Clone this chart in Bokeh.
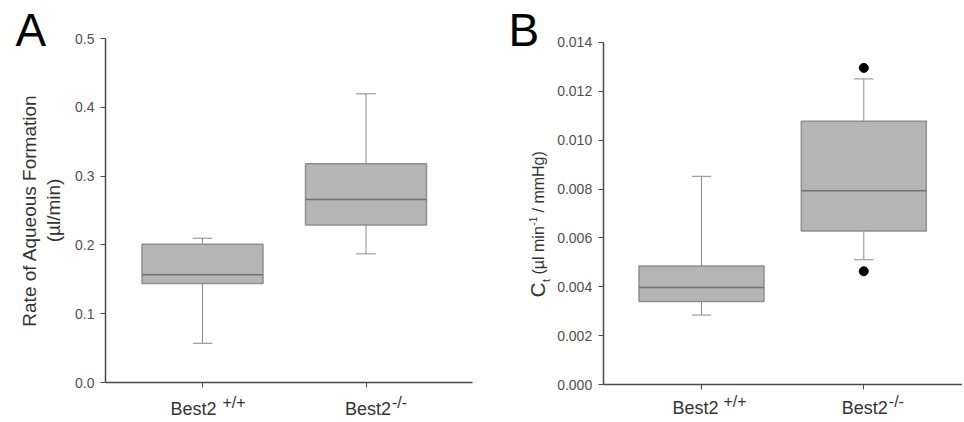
import math
from bokeh.plotting import figure
from bokeh.layouts import row
from bokeh.models import FixedTicker, Label, NumeralTickFormatter, Range1d, LinearAxis
from bokeh.embed import file_html
from bokeh.resources import INLINE

# ---------------- data ----------------
groups = [1, 2]
cat_main = ["Best2", "Best2"]
cat_sup = ["+/+", "-/-"]

# Panel A: rate of aqueous formation (µl/min)
a_lo = [0.057, 0.187]
a_q1 = [0.144, 0.229]
a_med = [0.1565, 0.266]
a_q3 = [0.201, 0.318]
a_hi = [0.2097, 0.4196]
a_ticks = [0.0, 0.1, 0.2, 0.3, 0.4, 0.5]
a_title = ["Rate of Aqueous Formation", "(µl/min)"]

# Panel B: Ct (µl min-1 / mmHg)
b_lo = [0.00285, 0.00511]
b_q1 = [0.0034, 0.00628]
b_med = [0.00398, 0.00793]
b_q3 = [0.00485, 0.01077]
b_hi = [0.00852, 0.0125]
b_out_x = [2, 2]
b_out_y = [0.01295, 0.00464]
b_ticks = [0.000, 0.002, 0.004, 0.006, 0.008, 0.010, 0.012, 0.014]
b_title = ["C", "t", "(µl min", "-1", "/ mmHg)"]

FONT = "Liberation Sans"
AXIS = "#4a4a4a"
BOX_FILL = "#b5b5b5"
BOX_LINE = "#8f8f8f"
MED = "#727272"
WHISK = "#8a8a8a"
TXT = "#333333"
K_MID = 0.3465  # baseline distance below the 'middle' anchor, in em
UP = math.pi / 2


def panel(width, height, g_px, y0_px, ytop_px, ymax, axis_left_px, axis_right_px,
          ticks, fmt, lo, q1, med, q3, hi, box_w):
    # map pixel geometry of the reference onto data ranges (frame = whole canvas)
    sx = g_px[1] - g_px[0]
    xs = 1 - g_px[0] / sx
    xe = xs + width / sx
    sy = (y0_px - ytop_px) / ymax
    ye = ymax + ytop_px / sy
    ys = -(height - y0_px) / sy
    yaxis_x = xs + axis_left_px / sx
    xaxis_end = xs + axis_right_px / sx

    p = figure(width=width, height=height, x_range=Range1d(xs, xe), y_range=Range1d(ys, ye),
               output_backend="svg", toolbar_location=None,
               x_axis_location=None, y_axis_location=None,
               min_border_left=0, min_border_right=0, min_border_top=0, min_border_bottom=0)
    p.outline_line_color = None
    p.grid.visible = False
    p.background_fill_color = "white"
    p.border_fill_color = "white"

    cap = 0.06
    p.segment(x0=groups, x1=groups, y0=q3, y1=hi, line_color=WHISK, line_width=1)
    p.segment(x0=groups, x1=groups, y0=q1, y1=lo, line_color=WHISK, line_width=1)
    p.segment(x0=[g - cap for g in groups], x1=[g + cap for g in groups], y0=hi, y1=hi,
              line_color=WHISK, line_width=1)
    p.segment(x0=[g - cap for g in groups], x1=[g + cap for g in groups], y0=lo, y1=lo,
              line_color=WHISK, line_width=1)
    p.vbar(x=groups, bottom=q1, top=q3, width=box_w, fill_color=BOX_FILL,
           line_color=BOX_LINE, line_width=1.5)
    p.segment(x0=[g - box_w / 2 for g in groups], x1=[g + box_w / 2 for g in groups],
              y0=med, y1=med, line_color=MED, line_width=1.5)

    ya = LinearAxis(fixed_location=yaxis_x, bounds=(0, ymax))
    ya.ticker = FixedTicker(ticks=ticks)
    ya.formatter = NumeralTickFormatter(format=fmt)
    ya.axis_line_color = AXIS
    ya.axis_line_width = 1.5
    ya.major_tick_line_color = AXIS
    ya.major_tick_in = 0
    ya.major_tick_out = 5
    ya.minor_tick_line_color = None
    ya.major_label_text_font = FONT
    ya.major_label_text_font_size = "14px"
    ya.major_label_text_color = "#505050"
    ya.major_label_standoff = 6
    p.add_layout(ya, "left")

    xa = LinearAxis(fixed_location=0, bounds=(yaxis_x, xaxis_end))
    xa.ticker = FixedTicker(ticks=groups)
    xa.axis_line_color = AXIS
    xa.axis_line_width = 1.5
    xa.major_tick_line_color = AXIS
    xa.major_tick_in = 0
    xa.major_tick_out = 5
    xa.minor_tick_line_color = None
    xa.major_label_text_color = None
    p.add_layout(xa, "below")

    def lab(x_px, y_px, text, size, color=TXT, align="left", angle=0.0):
        # x_px / y_px: canvas pixels from top-left; the baseline is given
        # (y for horizontal text, x for text rotated by 90 degrees)
        if angle:
            x_px = x_px - K_MID * size
        else:
            y_px = y_px - K_MID * size
        p.add_layout(Label(x=xs, y=ye, x_offset=x_px, y_offset=-y_px, text=text,
                           text_align=align, text_baseline="middle", angle=angle,
                           text_font=FONT, text_font_size=f"{size}px", text_color=color))

    return p, lab


# ---------- Panel A ----------
gA = (202, 365.5)
pA, labA = panel(480, 420, gA, 382, 38, 0.5, 105, 472, a_ticks, "0.0",
                 a_lo, a_q1, a_med, a_q3, a_hi, 0.74)
for gx, m, s, mo, so in zip(gA, cat_main, cat_sup, (14, 25), (20, 26)):
    labA(gx + mo, 415, m, 18, align="right")
    labA(gx + so, 408, s, 16)
labA(15, 45, "A", 46, color="black")
labA(35.5, 210, a_title[0], 19, align="center", angle=UP)
labA(60, 210, a_title[1], 19, align="center", angle=UP)

# ---------- Panel B ----------
gB = (221, 383.3)
pB, labB = panel(482, 420, gB, 384.3, 41.7, 0.014, 122.7, 482, b_ticks, "0.000",
                 b_lo, b_q1, b_med, b_q3, b_hi, 0.77)
pB.scatter(x=b_out_x, y=b_out_y, size=9, marker="circle", fill_color="black",
           line_color="black")
for gx, m, s, mo, so in zip(gB, cat_main, cat_sup, (17, 24), (22, 25)):
    labB(gx + mo, 414, m, 18, align="right")
    labB(gx + so, 407, s, 16)
labB(28, 45, "B", 46, color="black")
# rotated y-axis title: C_t (µl min^-1 / mmHg)
labB(64, 297, b_title[0], 21, angle=UP)
labB(69, 281.5, b_title[1], 11, angle=UP)
labB(64, 274, b_title[2], 16, angle=UP)
labB(55.5, 225, b_title[3], 10, angle=UP)
labB(64, 212, b_title[4], 16, angle=UP)

layout = row(pA, pB)
open("out.html", "w").write(file_html(layout, INLINE))
